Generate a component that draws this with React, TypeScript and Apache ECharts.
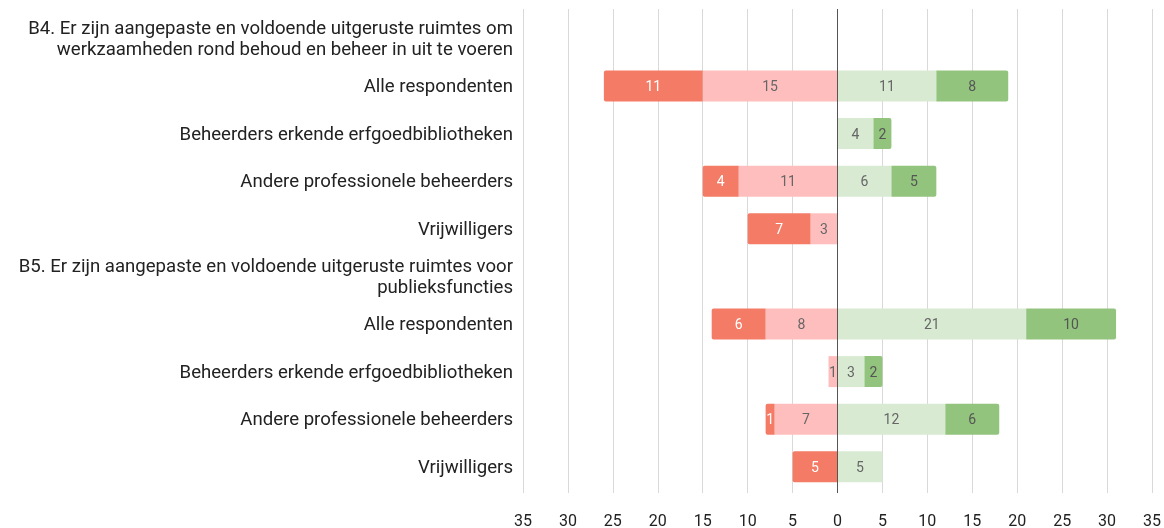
import React, { useEffect, useRef } from "react";
import * as echarts from "echarts";

const categories = [
  "B4. Er zijn aangepaste en voldoende uitgeruste ruimtes om\nwerkzaamheden rond behoud en beheer in uit te voeren",
  "Alle respondenten",
  "Beheerders erkende erfgoedbibliotheken",
  "Andere professionele beheerders",
  "Vrijwilligers",
  "B5. Er zijn aangepaste en voldoende uitgeruste ruimtes voor\npublieksfuncties",
  "Alle respondenten",
  "Beheerders erkende erfgoedbibliotheken",
  "Andere professionele beheerders",
  "Vrijwilligers",
];

// counts per row (header rows empty)
const stronglyDisagree = [0, 11, 0, 4, 7, 0, 6, 0, 1, 5];
const disagree = [0, 15, 0, 11, 3, 0, 8, 1, 7, 0];
const agree = [0, 11, 4, 6, 0, 0, 21, 3, 12, 5];
const stronglyAgree = [0, 8, 2, 5, 0, 0, 10, 2, 6, 0];

const xTicks = { min: -35, max: 35, interval: 5 };

const COLORS = {
  strongDis: "#F47C67",
  dis: "#FFBEBE",
  agree: "#D9EAD3",
  strongAgree: "#93C47D",
};

export default function App() {
  const ref = useRef<HTMLDivElement>(null);
  useEffect(() => {
    if (!ref.current) return;
    const chart = echarts.init(ref.current, null, { renderer: "svg" });
    const labelFmt = (p: any) => {
      const v = Math.abs(Number(p.value));
      return v ? String(v) : "";
    };
    const mk = (
      name: string,
      data: number[],
      sign: number,
      color: string,
      labelColor: string,
      radius: number[]
    ) => ({
      name,
      type: "bar",
      stack: "s",
      xAxisIndex: 0,
      yAxisIndex: 0,
      barWidth: 31,
      z: 3,
      data: data.map((v) => (v ? v * sign : "-")),
      itemStyle: { color, borderRadius: radius },
      label: {
        show: true,
        position: "inside",
        formatter: labelFmt,
        color: labelColor,
        fontSize: 14,
        fontFamily: "Roboto",
      },
    });
    chart.setOption({
      animation: false,
      grid: [
        { left: 523, right: 12, top: 14.6, bottom: 37.4, containLabel: false },
        { left: 523, right: 12, top: 9, bottom: 33, containLabel: false },
      ],
      xAxis: [
        {
          type: "value",
          gridIndex: 0,
          min: xTicks.min,
          max: xTicks.max,
          interval: xTicks.interval,
          axisLine: { show: false },
          axisTick: { show: false },
          splitLine: { show: false },
          axisLabel: { show: false },
        },
        {
          type: "value",
          gridIndex: 1,
          min: xTicks.min,
          max: xTicks.max,
          interval: xTicks.interval,
          axisLine: { show: false },
          axisTick: { show: false },
          splitLine: { show: true, lineStyle: { color: "#D9D9D9", width: 1 } },
          axisLabel: {
            formatter: (v: number) => String(Math.abs(v)),
            fontSize: 16,
            color: "#222",
            fontFamily: "Roboto",
            margin: 19,
          },
        },
      ],
      yAxis: [
        {
          type: "category",
          gridIndex: 0,
          inverse: true,
          data: categories,
          axisLine: { show: false },
          axisTick: { show: false },
          axisLabel: {
            fontSize: 18.6,
            color: "#222",
            fontFamily: "Roboto",
            margin: 10,
            lineHeight: 21,
            align: "right",
          },
        },
        {
          type: "value",
          gridIndex: 1,
          min: 0,
          max: 1,
          show: false,
        },
      ],
      series: [
        {
          type: "bar",
          xAxisIndex: 1,
          yAxisIndex: 1,
          data: [],
          z: 1,
          markLine: {
            silent: true,
            symbol: "none",
            label: { show: false },
            lineStyle: { color: "#555", width: 1, type: "solid" },
            data: [{ xAxis: 0 }],
          },
        },
        mk("Oneens", disagree, -1, COLORS.dis, "#666", [0, 0, 0, 0]),
        mk("Helemaal oneens", stronglyDisagree, -1, COLORS.strongDis, "#fff", [2, 0, 0, 2]),
        mk("Eens", agree, 1, COLORS.agree, "#666", [0, 0, 0, 0]),
        mk("Helemaal eens", stronglyAgree, 1, COLORS.strongAgree, "#555", [0, 2, 2, 0]),
      ],
    });
    return () => chart.dispose();
  }, []);
  return (
    <div
      ref={ref}
      style={{ position: "fixed", left: 0, top: 0, width: 1164, height: 528 }}
    />
  );
}
